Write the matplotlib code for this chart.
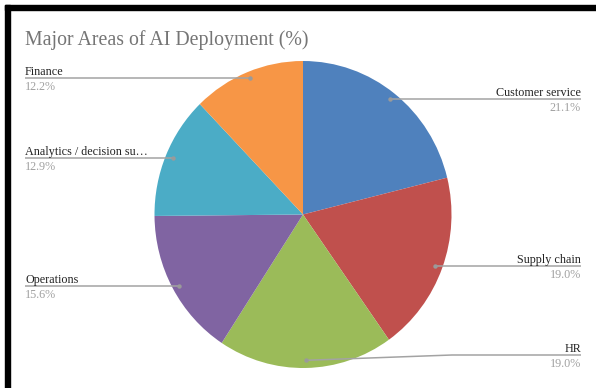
import numpy as np
import matplotlib.pyplot as plt
from matplotlib.transforms import Affine2D
from matplotlib.patches import Rectangle

plt.rcParams['font.family'] = ['Liberation Serif', 'DejaVu Serif']

labels = ["Customer service", "Supply chain", "HR", "Operations",
          "Analytics / decision su\u2026", "Finance"]
shares = [21.1, 19.0, 19.0, 15.6, 12.9, 12.2]
colors = ["#4F81BD", "#C0504D", "#9BBB59", "#8064A2", "#4BACC6", "#F79646"]

# label layout in pixel units (y measured from the top)
label_side = ["right", "right", "right", "left", "left", "left"]
label_y = [99, 266, 355, 286, 158, 78]

W, H = 596, 388
fig = plt.figure(figsize=(W / 100, H / 100), dpi=100)
ax = fig.add_axes([0, 0, 1, 1])

cx, cy = 303, H - 214.5
rx, ry = 148.5, 153.5
tr = Affine2D().scale(rx, ry).translate(cx, cy) + ax.transData

wedges, _ = ax.pie(shares, colors=colors, startangle=90, counterclock=False,
                   radius=1, center=(0, 0), wedgeprops=dict(linewidth=0))
for w in wedges:
    w.set_transform(tr)

ax.set_xlim(0, W)
ax.set_ylim(0, H)
ax.set_aspect('auto')
ax.axis('off')

# leader lines, dots and labels
total = sum(shares)
start = 90.0
line_col = "#a3a3a3"
for name, val, side, ly in zip(labels, shares, label_side, label_y):
    span = val / total * 360
    mid = np.radians(start - span / 2)
    start -= span
    dx = cx + 0.95 * rx * np.cos(mid)
    dy = cy + 0.95 * ry * np.sin(mid)
    y = H - ly
    if side == "right":
        tx = 581
        if abs(dy - y) > 3:
            xs, ys = [dx, 452, tx], [dy, y, y]
        else:
            xs, ys = [dx, tx], [y, y]
        ha = "right"
    else:
        tx = 25
        xs, ys = [tx, dx], [y, y]
        ha = "left"
    ax.plot(xs, ys, color=line_col, lw=1.1, solid_capstyle='butt')
    ax.plot(dx, ys[0] if side == "right" else ys[-1], 'o', ms=3.2,
            color="#9a9a9a", mec='none')
    ax.text(tx, y + 3, name, ha=ha, va='baseline', fontsize=8.7,
            color="#222222")
    ax.text(tx, y - 3, f"{val:.1f}%", ha=ha, va='top', fontsize=8.7,
            color="#a0a0a0")

ax.text(25, H - 45, "Major Areas of AI Deployment (%)", ha='left',
        va='baseline', fontsize=14.3, color="#757575")

# black frame along the top and left edges
fig.patches.append(Rectangle((5 / W, (H - 9.5) / H), 1, 4.5 / H,
                             transform=fig.transFigure, color='black'))
fig.patches.append(Rectangle((5 / W, 0), 4.5 / W, (H - 5) / H,
                             transform=fig.transFigure, color='black'))

fig.savefig("out.png", dpi=100)
